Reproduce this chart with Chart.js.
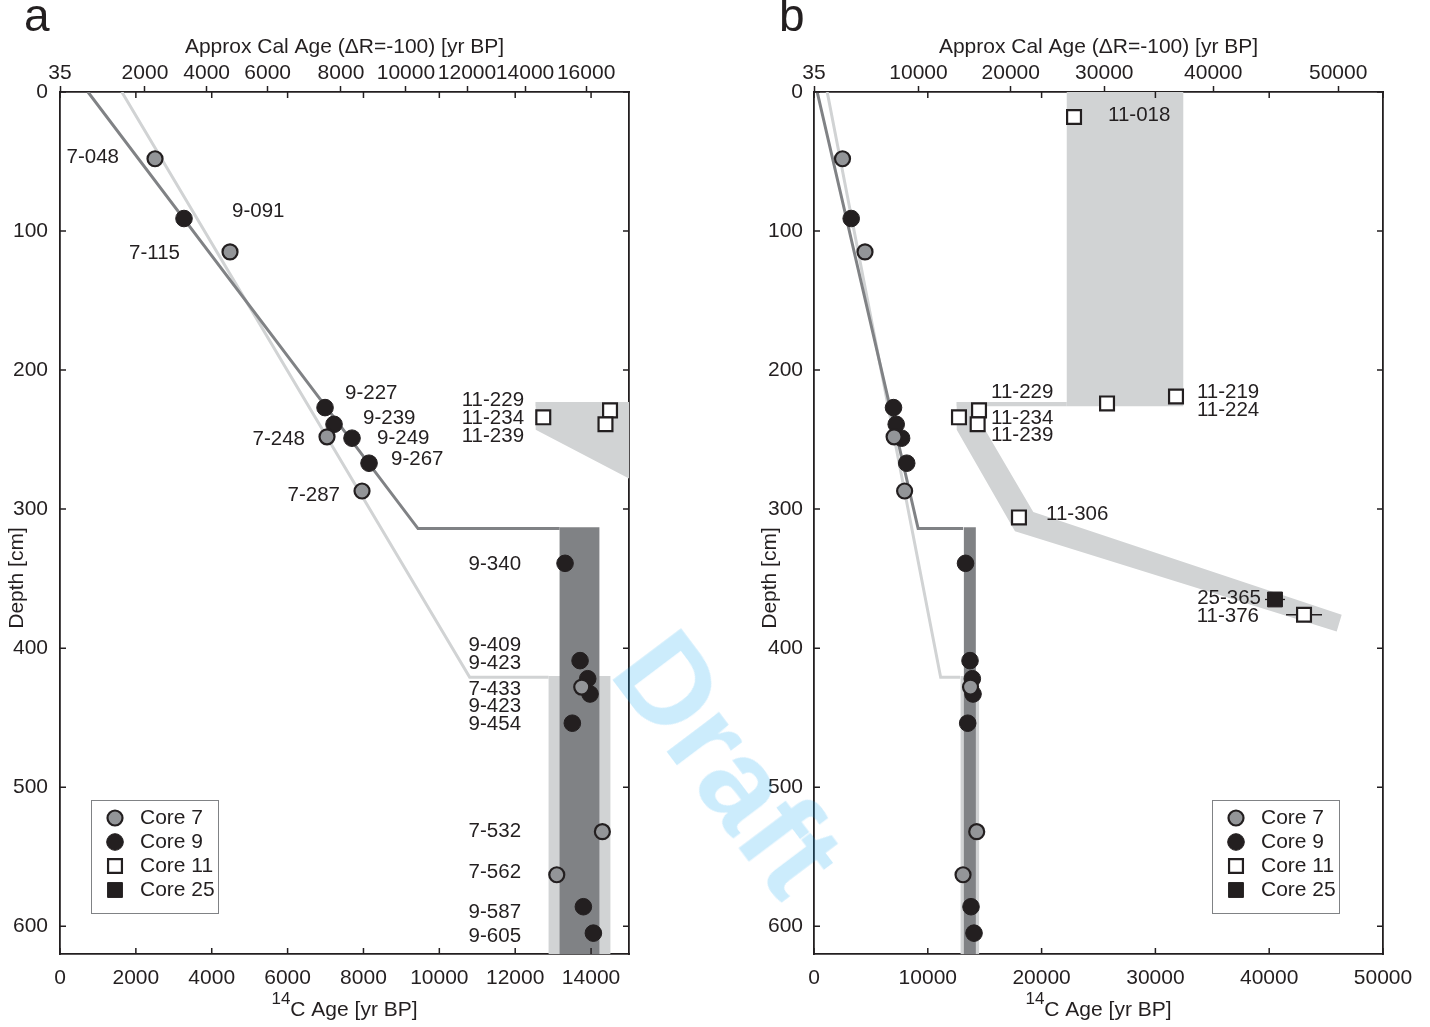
<!DOCTYPE html>
<html>
<head>
<meta charset="utf-8">
<script src="https://cdn.jsdelivr.net/npm/chart.js@4.4.1/dist/chart.umd.min.js"></script>
<style>
  html, body { margin: 0; padding: 0; background: #fff; }
  #wrap { position: relative; width: 1430px; height: 1027px; overflow: hidden; }
  canvas { position: absolute; top: 0; }
  #ca { left: 0; }
  #cb { left: 715px; }
  #draft {
    position: absolute; left: 729px; top: 763px;
    transform: translate(-50%, -50%) rotate(53deg);
    font: bold 124px "Liberation Sans", Arial, sans-serif;
    color: rgba(0, 160, 240, 0.2);
    white-space: nowrap; pointer-events: none;
  }
</style>
</head>
<body>
<div id="wrap">
  <canvas id="ca" width="715" height="1027"></canvas>
  <canvas id="cb" width="715" height="1027"></canvas>
  <div id="draft">Draft</div>
</div>
<script>
// 14C ages [yr BP] and depths [cm]
const core7Age    = [2505, 4482, 7039, 7962, 13754, 14298, 13096];
const core7Depth  = [48, 115, 248, 287, 428, 532, 563];
const core9Age    = [3269, 6987, 7224, 7698, 8147, 13314, 13710, 13912, 13973, 13506, 13797, 14061];
const core9Depth  = [91, 227, 239, 249, 267, 339, 409, 422, 433, 454, 586, 605];
const core11Age   = [22850, 14500, 12740, 14380, 31810, 25750, 18010, 43060];
const core11Depth = [18, 229, 234, 239, 219, 224, 306, 376];
const core11Err   = [0, 0, 0, 0, 0, 0, 0, 1580];
const core25Age   = [40510];
const core25Depth = [365];
const core25Err   = [880];

// age models (dark = core 9, light = core 7)
const darkAgeA   = [738, 9438, 13170];
const darkAgeB   = [280, 9150, 13110];
const darkDepth  = [0, 314, 314];
const lightAgeA  = [1630, 10800, 12880];
const lightAgeB  = [1160, 11130, 12840];
const lightDepth = [0, 421, 421];

// shaded envelopes
const darkBandAge    = [13170, 14220, 14220, 13170];
const darkBandDepth  = [313, 313, 620, 620];
const lightBandAge   = [12880, 14510, 14510, 12880];
const lightBandDepth = [420, 420, 620, 620];
const c11BoxAge      = [22210, 32450, 32450, 22210];
const c11BoxDepth    = [0, 0, 226, 226];
const c11BarAge      = [12540, 22210, 22210, 12540];
const c11BarDepth    = [223, 223, 226, 226];
const c11SlopeAge    = [12540, 15030, 15030, 19270, 46370, 45930, 17660, 12540];
const c11SlopeDepth  = [223, 223, 243, 302, 376, 388, 316, 243];

// axis ticks: bottom 14C age, top calendar age labels at their 14C positions
const ageTicksA  = [0, 2000, 4000, 6000, 8000, 10000, 12000, 14000];
const ageTicksB  = [0, 10000, 20000, 30000, 40000, 50000];
const depthTicks = [0, 100, 200, 300, 400, 500, 600];
const calLabelsA = ['35', '2000', '4000', '6000', '8000', '10000', '12000', '14000', '16000'];
const calPosA    = [0, 2240, 3866, 5474, 7407, 9120, 10730, 12260, 13870];
const calLabelsB = ['35', '10000', '20000', '30000', '40000', '50000'];
const calPosB    = [0, 9180, 17290, 25510, 35085, 46060];

// sample labels: text, 14C age, depth, alignment
const labelsA = [
  ['7-048', 1555, 47, 'right'], ['9-091', 4535, 86, 'left'], ['7-115', 3164, 116, 'right'],
  ['9-227', 7514, 217, 'left'], ['9-239', 7988, 235, 'left'], ['9-249', 8357, 249, 'left'],
  ['9-267', 8726, 264, 'left'], ['7-248', 6459, 250, 'right'], ['7-287', 7382, 290, 'right'],
  ['11-229', 12233, 222, 'right'], ['11-234', 12233, 235, 'right'], ['11-239', 12233, 248, 'right'],
  ['9-340', 12154, 340, 'right'], ['9-409', 12154, 398, 'right'], ['9-423', 12154, 411, 'right'],
  ['7-433', 12154, 430, 'right'], ['9-423', 12154, 442, 'right'], ['9-454', 12154, 455, 'right'],
  ['7-532', 12154, 532, 'right'], ['7-562', 12154, 561, 'right'], ['9-587', 12154, 590, 'right'],
  ['9-605', 12154, 607, 'right']
];
const labelsB = [
  ['11-018', 25840, 17, 'left'], ['11-229', 15560, 216, 'left'], ['11-234', 15560, 235, 'left'],
  ['11-239', 15560, 247, 'left'], ['11-219', 33650, 216, 'left'], ['11-224', 33650, 229, 'left'],
  ['11-306', 20390, 304, 'left'], ['25-365', 39280, 364, 'right'], ['11-376', 39100, 377, 'right']
];

const INK = '#231f20';
const FONT = '"Liberation Sans", Arial, sans-serif';
Chart.defaults.font.family = FONT;
Chart.defaults.font.size = 21;
Chart.defaults.color = INK;

function pts(xs, ys) { return xs.map((v, i) => ({x: v, y: ys[i]})); }

function errorBars(xs, ys, es) {
  const out = [];
  xs.forEach((v, i) => { if (es[i]) out.push([{x: v - es[i], y: ys[i]}, {x: v + es[i], y: ys[i]}]); });
  return out;
}

function marker(ctx, d, x, y) {
  ctx.beginPath();
  if (d.pointStyle === 'rect') {
    const s = d.pointRadius * Math.SQRT1_2;
    ctx.rect(x - s, y - s, 2 * s, 2 * s);
  } else {
    ctx.arc(x, y, d.pointRadius, 0, 2 * Math.PI);
  }
  ctx.fillStyle = d.backgroundColor; ctx.fill();
  ctx.lineWidth = d.borderWidth; ctx.strokeStyle = d.borderColor; ctx.stroke();
}

const decor = {
  id: 'decor',
  beforeDatasetsDraw(chart, args, o) {
    const {ctx, chartArea: a, scales: {x, y}} = chart;
    ctx.save();
    ctx.beginPath(); ctx.rect(a.left, a.top, a.width, a.height); ctx.clip();
    o.polygons.forEach(p => {
      ctx.beginPath();
      p.age.forEach((v, i) => {
        const px = x.getPixelForValue(v), py = y.getPixelForValue(p.depth[i]);
        i ? ctx.lineTo(px, py) : ctx.moveTo(px, py);
      });
      ctx.closePath();
      ctx.fillStyle = p.color; ctx.fill();
    });
    ctx.restore();
  },
  afterDatasetsDraw(chart, args, o) {
    const {ctx, chartArea: a, scales: {x, y}} = chart;
    ctx.save();
    // inward ticks, like a boxed matlab axis
    ctx.strokeStyle = INK; ctx.lineWidth = 1.5;
    ctx.beginPath();
    x.ticks.forEach(t => {
      const px = x.getPixelForValue(t.value);
      ctx.moveTo(px, a.bottom); ctx.lineTo(px, a.bottom - 6);
      ctx.moveTo(px, a.top); ctx.lineTo(px, a.top + 6);
    });
    y.ticks.forEach(t => {
      const py = y.getPixelForValue(t.value);
      ctx.moveTo(a.left, py); ctx.lineTo(a.left + 6, py);
      ctx.moveTo(a.right, py); ctx.lineTo(a.right - 6, py);
    });
    ctx.stroke();
    // sample labels
    ctx.font = `20.5px ${FONT}`; ctx.textBaseline = 'middle'; ctx.fillStyle = INK;
    o.labels.forEach(([t, age, depth, align]) => {
      ctx.textAlign = align;
      ctx.fillText(t, x.getPixelForValue(age), y.getPixelForValue(depth));
    });
    ctx.restore();
  },
  afterDraw(chart, args, o) {
    const {ctx, chartArea: a} = chart;
    ctx.save();
    ctx.fillStyle = INK;
    ctx.font = `46px ${FONT}`; ctx.textAlign = 'left'; ctx.textBaseline = 'alphabetic';
    ctx.fillText(o.letter, o.letterX, 31);

    ctx.font = `21px ${FONT}`;
    ctx.save();
    ctx.translate(o.yTitleX, 578); ctx.rotate(-Math.PI / 2);
    ctx.textAlign = 'center'; ctx.textBaseline = 'middle';
    ctx.fillText('Depth [cm]', 0, 0);
    ctx.restore();

    const sup = '14', main = 'C Age [yr BP]';
    ctx.font = `17px ${FONT}`; const ws = ctx.measureText(sup).width;
    ctx.font = `21px ${FONT}`; const wm = ctx.measureText(main).width;
    const x0 = (a.left + a.right) / 2 - (ws + wm) / 2;
    ctx.textAlign = 'left'; ctx.textBaseline = 'middle';
    ctx.fillText(main, x0 + ws, 1010);
    ctx.font = `17px ${FONT}`;
    ctx.fillText(sup, x0, 999);

    // legend
    const lx = o.legendX, ly = a.bottom - 154;
    ctx.fillStyle = '#fff'; ctx.fillRect(lx, ly, 127, 113);
    ctx.strokeStyle = '#808285'; ctx.lineWidth = 1; ctx.strokeRect(lx + 0.5, ly + 0.5, 127, 113);
    chart.data.datasets.filter(d => d.inLegend).forEach((d, i) => {
      const cy = ly + 18 + i * 24;
      marker(ctx, d, lx + 24, cy);
      ctx.fillStyle = INK; ctx.font = `21px ${FONT}`;
      ctx.textAlign = 'left'; ctx.textBaseline = 'middle';
      ctx.fillText(d.label, lx + 49, cy);
    });
    ctx.restore();
  }
};

function makePanel(id, cfg) {
  const ds = [
    {label: 'Core 7', inLegend: true, data: pts(core7Age, core7Depth), pointStyle: 'circle',
     pointRadius: 7.5, backgroundColor: '#939598', borderColor: INK, borderWidth: 2.2},
    {label: 'Core 9', inLegend: true, data: pts(core9Age, core9Depth), pointStyle: 'circle',
     pointRadius: 8.3, backgroundColor: INK, borderColor: INK, borderWidth: 1},
    {label: 'Core 11', inLegend: true, data: pts(core11Age, core11Depth), pointStyle: 'rect',
     pointRadius: 9.8, backgroundColor: '#fff', borderColor: INK, borderWidth: 2.2},
    {label: 'Core 25', inLegend: true, data: pts(core25Age, core25Depth), pointStyle: 'rect',
     pointRadius: 10.5, backgroundColor: INK, borderColor: INK, borderWidth: 1}
  ];
  errorBars(core11Age, core11Depth, core11Err).concat(errorBars(core25Age, core25Depth, core25Err))
    .forEach(d => ds.push({data: d, showLine: true, pointRadius: 0, borderColor: INK, borderWidth: 1.3}));
  ds.push({data: pts(cfg.darkAge, darkDepth), showLine: true, pointRadius: 0, borderColor: '#808285', borderWidth: 3});
  ds.push({data: pts(cfg.lightAge, lightDepth), showLine: true, pointRadius: 0, borderColor: '#d1d3d4', borderWidth: 3});

  const frame = {color: INK, width: 1.8};
  new Chart(document.getElementById(id), {
    type: 'scatter',
    data: {datasets: ds},
    options: {
      responsive: false, animation: false, events: [],
      layout: {padding: 0},
      plugins: {
        legend: {display: false}, tooltip: {enabled: false},
        decor: {
          letter: cfg.letter, letterX: cfg.letterX, yTitleX: cfg.yTitleX, legendX: cfg.legendX,
          labels: cfg.labels,
          polygons: [
            {age: c11BoxAge, depth: c11BoxDepth, color: '#d1d3d4'},
            {age: c11BarAge, depth: c11BarDepth, color: '#d1d3d4'},
            {age: c11SlopeAge, depth: c11SlopeDepth, color: '#d1d3d4'},
            {age: lightBandAge, depth: lightBandDepth, color: '#d1d3d4'},
            {age: darkBandAge, depth: darkBandDepth, color: '#808285'}
          ]
        }
      },
      scales: {
        x: {
          type: 'linear', position: 'bottom', min: 0, max: cfg.xMax,
          afterFit: s => { s.height = 73; },
          afterBuildTicks: s => { s.ticks = cfg.ageTicks.map(v => ({value: v})); },
          ticks: {padding: 12, maxRotation: 0, autoSkip: false, callback: v => String(v)},
          grid: {drawOnChartArea: false, drawTicks: false},
          border: frame
        },
        xTop: {
          type: 'linear', position: 'top', min: 0, max: cfg.xMax,
          afterFit: s => { s.height = 92; },
          afterBuildTicks: s => { s.ticks = cfg.calPos.map(v => ({value: v})); },
          ticks: {padding: 0, maxRotation: 0, autoSkip: false, callback: (v, i) => cfg.calLabels[i]},
          grid: {drawOnChartArea: false, drawTicks: true, tickLength: 6, tickColor: INK, tickWidth: 1.5},
          border: frame,
          title: {display: true, text: 'Approx Cal Age (\u0394R=-100) [yr BP]', padding: {top: 35, bottom: 0}}
        },
        y: {
          type: 'linear', position: 'left', reverse: true, min: 0, max: 620,
          afterFit: s => { s.width = cfg.yAxisW; },
          afterBuildTicks: s => { s.ticks = depthTicks.map(v => ({value: v})); },
          ticks: {padding: cfg.yPad},
          grid: {drawOnChartArea: false, drawTicks: false},
          border: frame
        },
        yRight: {
          type: 'linear', position: 'right', reverse: true, min: 0, max: 620,
          afterFit: s => { s.width = cfg.rightW; },
          ticks: {display: false},
          grid: {drawOnChartArea: false, drawTicks: false},
          border: frame
        }
      }
    },
    plugins: [decor]
  });
}

makePanel('ca', {
  letter: 'a', letterX: 24, yTitleX: 17, legendX: 91, labels: labelsA,
  xMax: 15000, ageTicks: ageTicksA, yAxisW: 60, yPad: 12, rightW: 86,
  calLabels: calLabelsA, calPos: calPosA, darkAge: darkAgeA, lightAge: lightAgeA
});
makePanel('cb', {
  letter: 'b', letterX: 64, yTitleX: 55, legendX: 497, labels: labelsB,
  xMax: 50000, ageTicks: ageTicksB, yAxisW: 99, yPad: 11, rightW: 47,
  calLabels: calLabelsB, calPos: calPosB, darkAge: darkAgeB, lightAge: lightAgeB
});
</script>
</body>
</html>
